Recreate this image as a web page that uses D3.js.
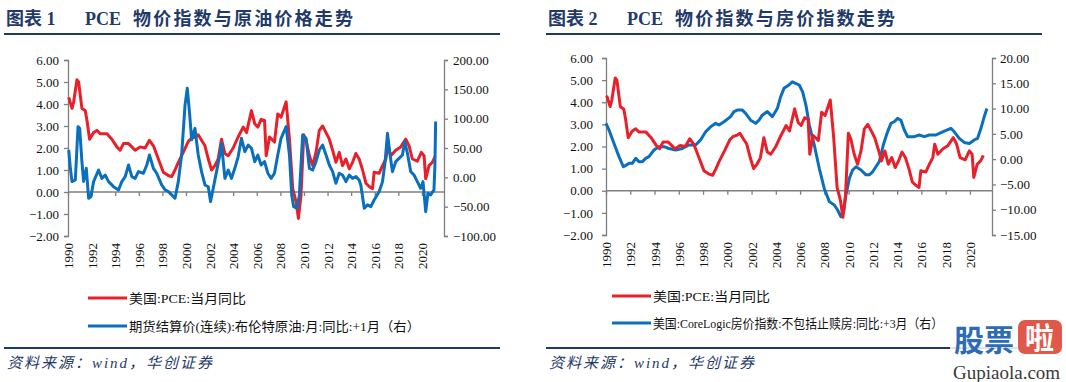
<!DOCTYPE html>
<html><head><meta charset="utf-8">
<script src="https://cdn.jsdelivr.net/npm/d3@7"></script>
<style>body{margin:0;background:#fff}svg{display:block}</style>
</head><body><svg id="c" width="1066" height="382"></svg>
<script>
// ---- data ----
const pceYears = [1990.06,1990.34,1990.48,1990.76,1990.90,1991.18,1991.46,1991.61,1991.83,1992.17,1992.45,1992.73,1993.30,1993.72,1994.14,1994.42,1994.70,1995.13,1995.41,1995.69,1996.11,1996.54,1996.90,1997.24,1997.66,1998.08,1998.51,1998.79,1999.07,1999.35,1999.77,2000.20,2000.48,2000.76,2001.04,2001.32,2001.61,2001.89,2002.17,2002.45,2002.73,2003.01,2003.30,2003.58,2004.00,2004.42,2004.85,2005.13,2005.55,2005.83,2006.09,2006.37,2006.66,2006.80,2007.08,2007.50,2007.78,2008.06,2008.49,2008.77,2009.05,2009.33,2009.53,2009.75,2009.98,2010.18,2010.46,2010.74,2011.02,2011.30,2011.58,2011.87,2012.15,2012.43,2012.71,2012.99,2013.27,2013.56,2013.84,2014.12,2014.40,2014.68,2014.97,2015.25,2015.53,2015.81,2015.95,2016.37,2016.66,2016.94,2017.10,2017.36,2017.78,2018.20,2018.63,2018.91,2019.19,2019.61,2019.95,2020.18,2020.32,2020.60,2020.88,2021.02,2021.10];
const pceValues = [4.3,3.8,4.1,5.1,5.0,3.8,3.7,3.25,2.4,2.7,2.8,2.65,2.65,2.4,2.05,1.9,2.2,2.2,2.05,1.9,2.05,2.0,2.35,2.1,1.5,0.9,0.75,0.7,1.0,1.35,1.8,2.3,2.45,2.5,2.6,2.35,2.1,1.5,1.0,1.2,1.5,2.4,1.75,1.65,2.0,2.5,2.95,2.7,3.7,3.1,2.95,3.3,3.25,1.65,2.5,2.27,3.55,3.4,4.1,2.4,0.15,-0.45,-1.2,-0.15,2.6,2.35,1.65,1.2,1.8,2.8,3.0,2.7,2.4,1.9,1.35,1.8,1.2,1.5,1.05,1.35,1.75,1.5,1.0,0.4,0.25,0.15,0.9,0.85,1.2,1.5,2.1,1.65,1.9,2.05,2.4,2.1,1.5,1.4,1.8,1.65,0.6,1.2,1.35,1.5,1.6];

const oilYears = [1990.06,1990.20,1990.34,1990.62,1990.85,1990.99,1991.18,1991.32,1991.55,1991.75,1991.94,1992.17,1992.59,1992.87,1993.15,1993.44,1993.86,1994.28,1994.56,1994.85,1995.13,1995.41,1995.69,1995.97,1996.39,1996.68,1996.90,1997.24,1997.52,1997.94,1998.23,1998.51,1998.79,1999.07,1999.35,1999.63,1999.92,2000.11,2000.28,2000.48,2000.76,2001.04,2001.32,2001.61,2001.89,2002.08,2002.31,2002.59,2002.87,2003.01,2003.30,2003.58,2003.86,2004.14,2004.42,2004.70,2004.99,2005.27,2005.55,2005.83,2006.09,2006.37,2006.66,2006.94,2007.22,2007.50,2007.78,2008.06,2008.49,2008.77,2008.96,2009.13,2009.42,2009.61,2009.89,2010.18,2010.46,2010.74,2011.02,2011.30,2011.58,2011.87,2012.15,2012.43,2012.71,2012.99,2013.27,2013.56,2013.84,2014.12,2014.40,2014.68,2014.82,2015.11,2015.39,2015.67,2015.95,2016.37,2016.66,2016.88,2017.08,2017.30,2017.50,2017.78,2018.06,2018.35,2018.54,2018.77,2019.05,2019.33,2019.61,2019.89,2020.09,2020.32,2020.51,2020.74,2021.02,2021.10,2021.16];
const oilValues = [46.6,15.4,-7.3,-4.5,86.4,83.6,26.7,-7,15.4,-35.7,-33,-7.3,12.5,-1.7,4,-7.3,-15.9,-21.5,-7.3,1.2,21,1.2,-1.7,9.7,6.9,21,38,15.4,6.9,-13,-21.5,-24.4,-30,-35.7,-7.3,38,123,152,115,64,83.5,38,9.7,-13,-16,-41.4,-18.7,9.7,38,58,-1.7,12.5,-1.7,15.4,35,66.5,43.8,55,49.5,26.7,38,21,26.7,6.9,-1.7,6.9,38,66.5,86.4,38,-30,-50,-52.8,-30,72,66.5,15.4,12.5,26.7,46.6,55,38,21,9.7,-10.2,6.9,4,-7.3,4,-1.7,1.2,-4.5,-13,-52.8,-47,-50,-38.6,-24.4,-7.3,26.7,75,38,9.7,26.7,32.4,38,60.8,41,9.7,4,-7.3,-18.7,-7.3,-58.5,-27.2,-30,-21.5,20,95];

const hpiYears = [1990.0,1990.25,1990.66,1991.07,1991.43,1991.90,1992.17,1992.45,1992.72,1993.0,1993.27,1993.54,1993.96,1994.37,1994.78,1995.19,1995.74,1996.29,1996.84,1997.39,1997.80,1998.21,1998.63,1999.04,1999.31,1999.73,2000.27,2000.55,2000.82,2001.24,2001.51,2001.92,2002.34,2002.61,2002.88,2003.30,2003.71,2004.12,2004.40,2004.67,2005.08,2005.36,2005.63,2005.93,2006.21,2006.48,2006.76,2007.17,2007.58,2007.99,2008.41,2008.82,2009.09,2009.37,2009.59,2009.78,2010.06,2010.33,2010.61,2011.02,2011.43,2011.70,2011.98,2012.25,2012.53,2012.86,2013.21,2013.49,2013.76,2014.04,2014.31,2014.59,2014.86,2015.41,2015.82,2016.24,2016.65,2017.20,2017.75,2018.43,2018.71,2019.12,2019.53,2019.95,2020.36,2020.63,2020.91,2021.18,2021.40];
const hpiValues = [7.08,5.76,3.1,0.5,-1.5,-0.83,-0.83,0.16,-0.5,-0.5,0.16,0.5,1.8,2.47,2.47,2.1,1.8,2.1,2.8,2.8,3.8,5.4,6.4,7.08,6.75,7.4,8.4,9.4,9.7,9.7,9.06,7.7,7.08,7.7,8.7,9.4,8.4,10.0,12.35,14,14.66,15.3,15.0,14.66,13.3,10.7,6.75,2.8,-1.8,-5.8,-8.4,-9.07,-10.06,-11.4,-10.4,-7.1,-3.8,-2.15,-1.5,-2.15,-3.1,-3.1,-2.5,-1.5,-0.5,2.8,5.4,7.08,7.4,8.07,7.7,5.76,4.44,4.44,4.77,4.44,4.77,4.77,5.4,6.1,5.4,4.1,3.3,3.1,3.8,4.1,6.1,8.4,10.0];

const yearTicks = [1990,1992,1994,1996,1998,2000,2002,2004,2006,2008,2010,2012,2014,2016,2018,2020];
const pceTicks = [-2,-1,0,1,2,3,4,5,6];
const oilTicks = [-100,-50,0,50,100,150,200];
const hpiTicks = [-15,-10,-5,0,5,10,15,20];
const chartNumbers = ["图表 1","图表 2"];
const chartTitles = ["物价指数与原油价格走势","物价指数与房价指数走势"];
const legendPce = "美国:PCE:当月同比";
const legendOil = "期货结算价(连续):布伦特原油:月:同比:+1月（右）";
const legendHpi = "美国:CoreLogic房价指数:不包括止赎房:同比:+3月（右）";
const sourceText = "资料来源：wind，华创证券";

// ---- drawing ----
const svg = d3.select("#c");
const RED = "#e8202a", BLUE = "#0a6fbd", NAVY = "#1f3a68", AX = "#7f7f7f";
const SERIF = "'Liberation Serif','Noto Sans CJK SC',serif";
const fmt = d3.format(".2f");

function panel(o) {
  const g = svg.append("g");
  const t = g.append("text").attr("y", 25).attr("fill", NAVY)
    .attr("font-family", SERIF).attr("font-weight", "bold").attr("font-size", 18);
  t.append("tspan").attr("x", o.x0 + 6).text(o.num);
  t.append("tspan").attr("x", o.x0 + 85).text("PCE");
  t.append("tspan").attr("x", o.x0 + 133).attr("textLength", 220).attr("lengthAdjust", "spacing").text(o.title);
  g.append("line").attr("x1", o.x0 + 4).attr("x2", o.x0 + 500).attr("y1", 34).attr("y2", 34)
    .attr("stroke", NAVY).attr("stroke-width", 2);

  const x = d3.scaleLinear().domain([1990, o.xEnd]).range([o.xl, o.xr]);
  const yL = d3.scaleLinear().domain([-2, 6]).range([o.yb, o.yt]);
  const yR = d3.scaleLinear().domain(o.rDomain).range([o.yb, o.yt]);

  const la = g.append("g").attr("transform", `translate(${o.xl},0)`)
    .call(d3.axisLeft(yL).tickValues(pceTicks).tickFormat(fmt).tickSize(4).tickPadding(o.lPad));
  const ra = g.append("g").attr("transform", `translate(${o.xr},0)`)
    .call(d3.axisRight(yR).tickValues(o.rTicks).tickFormat(fmt).tickSize(4).tickPadding(o.rPad));
  const xa = g.append("g").attr("transform", `translate(0,${yL(0)})`)
    .call(d3.axisBottom(x).tickValues(yearTicks).tickFormat(d3.format("d")).tickSize(4));
  xa.select(".domain").attr("d", `M${o.xl},0H${o.xr}`);
  xa.selectAll("text").attr("transform", `translate(0,${o.yb - yL(0) + 7}) rotate(-90)`)
    .attr("text-anchor", "end").attr("x", 0).attr("y", 0).attr("dy", "0.35em");
  [la, ra, xa].forEach(a => {
    a.selectAll(".domain").attr("stroke", AX).attr("stroke-width", 1.3);
    a.selectAll(".tick line").attr("stroke", AX).attr("stroke-width", 1.3);
    a.selectAll("text").attr("font-family", SERIF).attr("font-size", 13).attr("fill", "#111");
  });

  const lineL = d3.line().x(d => x(d[0])).y(d => yL(d[1]));
  const lineR = d3.line().x(d => x(d[0])).y(d => yR(d[1]));
  const rData = d3.zip(o.rYears, o.rValues);
  const pData = d3.zip(pceYears, pceValues);
  const drawR = () => g.append("path").datum(rData).attr("d", lineR).attr("fill", "none")
    .attr("stroke", BLUE).attr("stroke-width", 3).attr("stroke-linejoin", "round");
  const drawP = () => g.append("path").datum(pData).attr("d", lineL).attr("fill", "none")
    .attr("stroke", RED).attr("stroke-width", 3).attr("stroke-linejoin", "round");
  if (o.redFirst) { drawP(); drawR(); } else { drawR(); drawP(); }

  const items = [[RED, legendPce, o.legY[0], o.legW[0]], [BLUE, o.rLegend, o.legY[1], o.legW[1]]];
  items.forEach(([c, txt, yy, w]) => {
    g.append("line").attr("x1", o.legX).attr("x2", o.legX + 39).attr("y1", yy).attr("y2", yy)
      .attr("stroke", c).attr("stroke-width", 3);
    g.append("text").attr("x", o.legX + 41).attr("y", yy + 4.5).attr("font-family", SERIF)
      .attr("font-size", 13).attr("fill", "#111").attr("textLength", w).attr("lengthAdjust", "spacingAndGlyphs").text(txt);
  });

  g.append("line").attr("x1", o.x0 + 4).attr("x2", o.x0 + 500).attr("y1", 348).attr("y2", 348)
    .attr("stroke", NAVY).attr("stroke-width", 2);
  g.append("text").attr("x", o.x0 + 7).attr("y", 368).attr("font-family", SERIF)
    .attr("font-style", "italic").attr("font-size", 15).attr("fill", NAVY)
    .attr("textLength", 205).attr("lengthAdjust", "spacing").text(sourceText);
}

panel({x0: 0, num: chartNumbers[0], title: chartTitles[0], xl: 68, xr: 444, xEnd: 2021.87,
  yt: 60, yb: 236, rDomain: [-100, 200], rTicks: oilTicks, rYears: oilYears, rValues: oilValues,
  lPad: 5, rPad: 5, legX: 88, legY: [298, 326], legW: [117, 291], rLegend: legendOil, redFirst: true});
panel({x0: 542, num: chartNumbers[1], title: chartTitles[1], xl: 606, xr: 992, xEnd: 2021.82,
  yt: 58, yb: 235, rDomain: [-15, 20], rTicks: hpiTicks, rYears: hpiYears, rValues: hpiValues,
  lPad: 9, rPad: 4, legX: 612, legY: [296, 323], legW: [117, 290], rLegend: legendHpi, redFirst: false});

// watermark
const wm = svg.append("g");
wm.append("rect").attr("x", 950).attr("y", 318).attr("width", 116).attr("height", 64).attr("fill", "#fff").attr("opacity", 0.85);
wm.append("text").attr("x", 954).attr("y", 351).attr("font-family", "'Noto Sans CJK SC'").attr("font-weight", "bold")
  .attr("font-size", 30).attr("fill", "#2d6cb5").text("股票");
wm.append("rect").attr("x", 1018).attr("y", 320).attr("width", 44).attr("height", 34).attr("rx", 7).attr("fill", "#e0584a");
wm.append("text").attr("x", 1025).attr("y", 349).attr("font-family", "'Noto Sans CJK SC'").attr("font-weight", "bold")
  .attr("font-size", 29).attr("fill", "#fff").text("啦");
wm.append("text").attr("x", 953).attr("y", 379).attr("font-family", "'Liberation Serif'")
  .attr("font-size", 19).attr("fill", "#3a3a3a").text("Gupiaola.com");
</script></body></html>
